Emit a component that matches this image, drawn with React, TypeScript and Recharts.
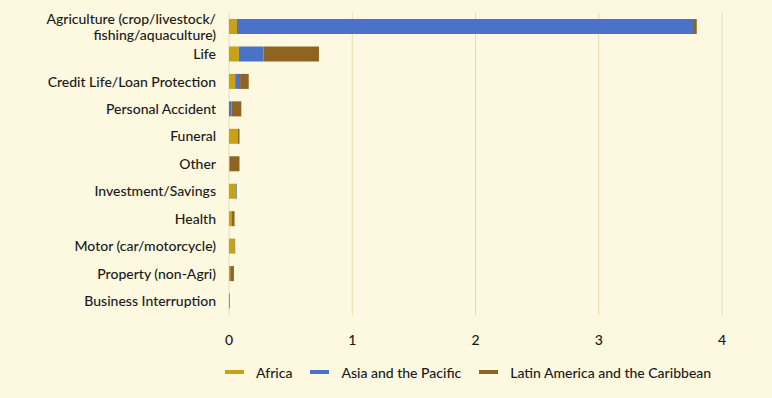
import { BarChart, Bar, XAxis, YAxis, CartesianGrid, Legend } from "recharts";

if (typeof document !== "undefined") {
  document.body.style.margin = "0";
  document.body.style.background = "#fdf8e0";
}

const categories = [
  "Agriculture (crop/livestock/fishing/aquaculture)",
  "Life",
  "Credit Life/Loan Protection",
  "Personal Accident",
  "Funeral",
  "Other",
  "Investment/Savings",
  "Health",
  "Motor (car/motorcycle)",
  "Property (non-Agri)",
  "Business Interruption",
];
const africa = [0.065, 0.08, 0.05, 0, 0.07, 0.005, 0.06, 0.02, 0.045, 0.01, 0];
const asiaPacific = [3.7, 0.2, 0.04, 0.02, 0, 0, 0.005, 0, 0, 0, 0.006];
const latinAmerica = [0.03, 0.45, 0.07, 0.08, 0.015, 0.08, 0, 0.025, 0.005, 0.03, 0];
const xTicks = [0, 1, 2, 3, 4];

const series = [
  { key: "africa", name: "Africa", color: "#c6a214" },
  { key: "asia", name: "Asia and the Pacific", color: "#4a72c9" },
  { key: "lac", name: "Latin America and the Caribbean", color: "#8e6420" },
];

const data = categories.map((category, i) => ({
  category,
  africa: africa[i],
  asia: asiaPacific[i],
  lac: latinAmerica[i],
}));

const font = "Lato, 'Open Sans', sans-serif";
const textColor = "#1a1a1a";

// the first label wraps onto two lines like in the source
function CategoryTick(props: any) {
  const { x, y, payload } = props;
  const label: string = payload.value;
  const lines = label.startsWith("Agriculture")
    ? ["Agriculture (crop/livestock/", "fishing/aquaculture)"]
    : [label];
  const start = -((lines.length - 1) * 16) / 2;
  return (
    <text x={x} y={y} textAnchor="end" fill={textColor} fontSize={14} fontWeight={500} fontFamily={font}>
      {lines.map((line, i) => (
        <tspan key={i} x={x} y={y + start + i * 16} dy="0.35em">
          {line}
        </tspan>
      ))}
    </text>
  );
}

function LegendContent() {
  return (
    <div style={{ display: "flex", height: 30, alignItems: "center", fontFamily: font, fontSize: 14, fontWeight: 500, color: textColor }}>
      {series.map((s) => (
        <div key={s.key} style={{ display: "flex", alignItems: "center", marginRight: 18 }}>
          <span style={{ display: "inline-block", width: 19, height: 4, background: s.color, marginRight: 12 }} />
          <span>{s.name}</span>
        </div>
      ))}
    </div>
  );
}

export default function App() {
  return (
    <div style={{ width: 772, height: 398, background: "#fdf8e0" }}>
      <BarChart
        width={772}
        height={398}
        data={data}
        layout="vertical"
        margin={{ top: 13, right: 50, left: 0, bottom: 13 }}
        barSize={15}
      >
        <CartesianGrid horizontal={false} stroke="#e6dcb0" />
        <XAxis
          type="number"
          domain={[0, 4]}
          ticks={xTicks}
          axisLine={false}
          tickLine={false}
          height={40}
          tickMargin={14}
          tick={{ fontSize: 14, fill: textColor, fontFamily: font, fontWeight: 500 }}
        />
        <YAxis
          type="category"
          dataKey="category"
          width={229}
          axisLine={false}
          tickLine={false}
          tickMargin={7}
          interval={0}
          tick={<CategoryTick />}
        />
        <Legend
          verticalAlign="bottom"
          content={<LegendContent />}
          wrapperStyle={{ left: 225, width: 540, bottom: 11 }}
        />
        {series.map((s) => (
          <Bar key={s.key} dataKey={s.key} name={s.name} stackId="a" fill={s.color} isAnimationActive={false} />
        ))}
      </BarChart>
    </div>
  );
}
